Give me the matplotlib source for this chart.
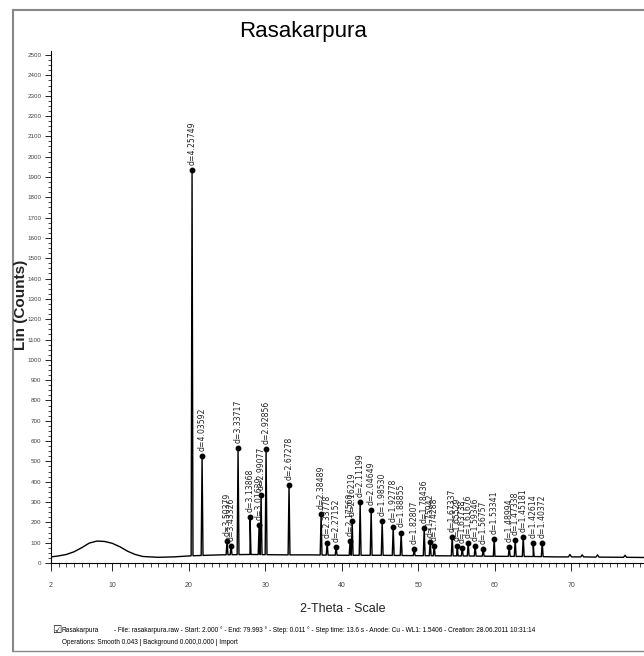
import numpy as np
import matplotlib
matplotlib.use("Agg")
import matplotlib.pyplot as plt
from matplotlib.lines import Line2D

plt.rcParams['font.family'] = ['Liberation Sans', 'DejaVu Sans']

# background / amorphous hump (2-theta, counts)
bg_theta = [2.0, 3.0, 4.0, 5.0, 6.0, 7.0, 8.0, 9.0, 10.0, 11.0, 12.0, 13.0, 14.0,
            16.0, 18.0, 20.0, 24.0, 28.0, 32.0, 36.0, 40.0, 45.0, 50.0, 55.0,
            60.0, 65.0, 68.0, 69.6, 69.8, 70.0, 71.2, 71.4, 71.6, 73.2, 73.4,
            73.6, 76.8, 77.0, 77.2, 80.0]
bg_counts = [30, 35, 42, 55, 75, 98, 108, 106, 97, 80, 58, 42, 32,
             28, 30, 35, 40, 42, 40, 40, 38, 38, 36, 35,
             33, 32, 30, 30, 42, 30, 30, 40, 30, 29, 40,
             29, 28, 38, 28, 27]

# labelled reflections
peak_theta = [20.43, 21.74, 25.00, 25.53, 26.44, 28.01, 29.19, 29.45, 30.10, 33.10,
              37.29, 38.08, 39.25, 41.08, 41.35, 42.39, 43.83, 45.27, 46.71, 47.75,
              49.45, 50.76, 51.54, 52.07, 54.42, 55.07, 55.73, 56.51, 57.42, 58.47,
              59.91, 61.87, 62.65, 63.70, 65.00, 66.18]
peak_counts = [1935, 525, 108, 85, 565, 225, 185, 335, 560, 385,
               240, 100, 80, 110, 205, 300, 260, 205, 175, 150,
               70, 170, 105, 85, 130, 85, 75, 100, 85, 70,
               120, 80, 115, 130, 100, 100]
peak_labels = ['d=4.25749', 'd=4.03592', 'd=3.50379', 'd=3.43326', 'd=3.33717',
               'd=3.13868', 'd=3.01639', 'd=2.99077', 'd=2.92856', 'd=2.67278',
               'd=2.38489', 'd=2.33778', 'd=2.27152', 'd=2.17560', 'd=2.16219',
               'd=2.11199', 'd=2.04649', 'd=1.98530', 'd=1.92778', 'd=1.88855',
               'd=1.82807', 'd=1.78436', 'd=1.75942', 'd=1.74288', 'd=1.67337',
               'd=1.65529', 'd=1.63738', 'd=1.61676', 'd=1.59346', 'd=1.56757',
               'd=1.53341', 'd=1.48994', 'd=1.47338', 'd=1.45181', 'd=1.42614',
               'd=1.40372']

x_ticks = [2, 10, 20, 30, 40, 50, 60, 70, 80]
x_ticklabels = ['2', '10', '20', '30', '40', '50', '60', '70', '80']
y_ticks = list(range(0, 2501, 100))

# build the profile: background points plus narrow triangular peaks
hw = 0.12
px = list(bg_theta)
py = list(bg_counts)
for t, h in zip(peak_theta, peak_counts):
    base_l = np.interp(t - hw, bg_theta, bg_counts)
    base_r = np.interp(t + hw, bg_theta, bg_counts)
    px += [t - hw, t, t + hw]
    py += [base_l, h, base_r]
order = np.argsort(px, kind='stable')
px = np.array(px)[order]
py = np.array(py)[order]

W, H = 644, 656
fig = plt.figure(figsize=(W / 100, H / 100), dpi=100)
ax = fig.add_axes([51 / W, 1 - 563 / H, (648 - 51) / W, 512 / H])

ax.plot(px, py, color='black', lw=1.0)
ax.plot(peak_theta, peak_counts, 'o', color='black', ms=3.2)
for t, h, lab in zip(peak_theta, peak_counts, peak_labels):
    ax.text(t, h + 25, lab, rotation=90, ha='center', va='bottom',
            fontsize=5.6, color='#222222', family=['DejaVu Sans'])

ax.set_xlim(2, 80)
ax.set_ylim(0, 2520)
for s in ['top', 'right']:
    ax.spines[s].set_visible(False)
ax.spines['left'].set_linewidth(0.8)
ax.spines['bottom'].set_linewidth(0.8)

ax.set_xticks(x_ticks)
ax.set_xticklabels(x_ticklabels)
ax.set_xticks(np.arange(2, 80.5, 1), minor=True)
ax.set_yticks(y_ticks)
ax.set_yticklabels([str(v) for v in y_ticks])
ax.set_yticks(np.arange(0, 2521, 25), minor=True)
ax.tick_params(axis='x', which='major', length=6, width=0.6, pad=8,
               labelsize=5, labelcolor='#444444')
ax.tick_params(axis='x', which='minor', length=3, width=0.5)
ax.tick_params(axis='y', which='major', length=4, width=0.6, pad=3,
               labelsize=4.5, labelcolor='#444444')
ax.tick_params(axis='y', which='minor', length=2, width=0.5)

fig.text(303 / W, 1 - 32 / H, 'Rasakarpura', fontsize=16, ha='center', va='center')
fig.text(21 / W, 1 - 305 / H, 'Lin (Counts)', fontsize=11, rotation=90,
         ha='center', va='center', color='#222222', fontweight='bold')
fig.text(343 / W, 1 - 609 / H, '2-Theta - Scale', fontsize=9, ha='center',
         va='center', color='#222222')

fig.text(52 / W, 1 - 630 / H, '\u2611', fontsize=7.5, ha='left', va='center',
         family=['DejaVu Sans'])
fig.text(62 / W, 1 - 630 / H, 'Rasakarpura', fontsize=4.7, ha='left', va='center')
fig.text(114 / W, 1 - 630 / H,
         '- File: rasakarpura.raw - Start: 2.000 \u00b0 - End: 79.993 \u00b0 - Step: 0.011 \u00b0'
         ' - Step time: 13.6 s - Anode: Cu - WL1: 1.5406 - Creation: 28.06.2011 10:31:14',
         fontsize=4.7, ha='left', va='center')
fig.text(62 / W, 1 - 642 / H,
         'Operations: Smooth 0.043 | Background 0.000,0.000 | Import',
         fontsize=4.7, ha='left', va='center')

# grey frame of the screenshot
fig.add_artist(Line2D([13 / W, 13 / W], [1 - 10 / H, 1 - 651 / H], color='#888888', lw=1.5))
fig.add_artist(Line2D([13 / W, 1], [1 - 10 / H, 1 - 10 / H], color='#888888', lw=1.5))
fig.add_artist(Line2D([13 / W, 1], [1 - 651 / H, 1 - 651 / H], color='#888888', lw=1.0))

fig.savefig('out.png', dpi=100)
